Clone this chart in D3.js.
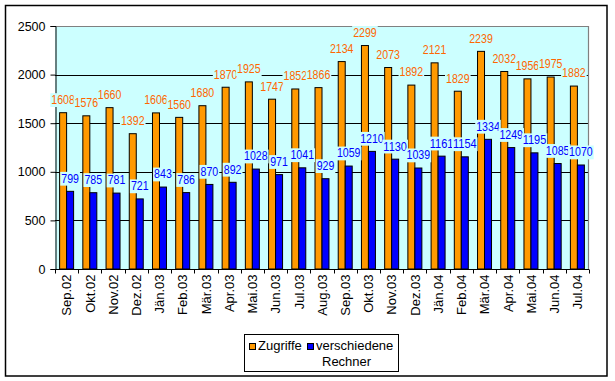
<!DOCTYPE html>
<html>
<head>
<meta charset="utf-8">
<script src="https://cdn.jsdelivr.net/npm/d3@7/dist/d3.min.js"></script>
<style>
  html, body { margin: 0; padding: 0; background: #fff; }
  svg { display: block; }
  text { font-family: "Liberation Sans", Arial, sans-serif; }
</style>
</head>
<body>
<svg id="chart" width="615" height="381"></svg>
<script>
const categories = ["Sep.02","Okt.02","Nov.02","Dez.02","Jän.03","Feb.03","Mär.03","Apr.03","Mai.03","Jun.03","Jul.03","Aug.03","Sep.03","Okt.03","Nov.03","Dez.03","Jän.04","Feb.04","Mär.04","Apr.04","Mai.04","Jun.04","Jul.04"];
const zugriffe = [1608,1576,1660,1392,1606,1560,1680,1870,1925,1747,1852,1866,2134,2299,2073,1892,2121,1829,2239,2032,1956,1975,1882];
const rechner = [799,785,781,721,843,786,870,892,1028,971,1041,929,1059,1210,1130,1039,1161,1154,1334,1249,1195,1085,1070];
const yTicks = [0,500,1000,1500,2000,2500];
const seriesNames = ["Zugriffe", "verschiedene", "Rechner"];

const svg = d3.select("#chart");
const plot = {left: 55, right: 589, top: 26, bottom: 269};

// outer chart area
svg.append("rect").attr("x", 5.5).attr("y", 5.5).attr("width", 601.5).attr("height", 370.5)
  .attr("fill", "#fff").attr("stroke", "#000").attr("stroke-width", 1.5);

const x = d3.scaleBand().domain(categories).range([plot.left, plot.right]).paddingInner(0).paddingOuter(0);
const y = d3.scaleLinear().domain([0, 2500]).range([plot.bottom, plot.top]);
const xs = d3.scaleBand().domain([0, 1]).range([0, x.bandwidth()]).paddingInner(0).paddingOuter(0.66);

// plot background
svg.append("rect").attr("x", plot.left).attr("y", plot.top)
  .attr("width", plot.right - plot.left).attr("height", plot.bottom - plot.top)
  .attr("fill", "#CCFFFF");

// gridlines
svg.append("g").selectAll("line").data(yTicks.filter(d => d > 0 && d < 2500)).join("line")
  .attr("x1", plot.left).attr("x2", plot.right)
  .attr("y1", d => Math.round(y(d)) + 0.5).attr("y2", d => Math.round(y(d)) + 0.5)
  .attr("stroke", "#000").attr("stroke-width", 1);

// plot border top/right gray
svg.append("path")
  .attr("d", `M${plot.left},${plot.top + 0.5}H${plot.right - 0.5}V${plot.bottom}`)
  .attr("fill", "none").attr("stroke", "#808080").attr("stroke-width", 1.2);

// bars
const series = [
  {vals: zugriffe, fill: "#FF9900", txt: "#FF6600"},
  {vals: rechner, fill: "#0000FF", txt: "#0000FF"}
];
series.forEach((s, si) => {
  svg.append("g").selectAll("rect").data(s.vals).join("rect")
    .attr("x", (d, i) => x(categories[i]) + xs(si))
    .attr("y", d => y(d))
    .attr("width", xs.bandwidth())
    .attr("height", d => y(0) - y(d))
    .attr("fill", s.fill).attr("stroke", "#000").attr("stroke-width", 1);
});

// axes
const yAxis = d3.axisLeft(y).tickValues(yTicks).tickSize(5).tickPadding(5).tickFormat(d3.format("d"));
const gy = svg.append("g").attr("transform", `translate(${plot.left + 0.5},0)`).call(yAxis);
gy.select(".domain").attr("stroke", "#000");
gy.selectAll("line").attr("stroke", "#000");
gy.selectAll("text").attr("font-size", "12.5px").attr("fill", "#000").attr("font-family", "'Liberation Sans', Arial, sans-serif");

const gx = svg.append("g").attr("transform", `translate(0,${plot.bottom + 0.5})`);
gx.append("line").attr("x1", plot.left).attr("x2", plot.right).attr("stroke", "#000");
const boundaries = categories.map(c => x(c)).concat([plot.right]);
gx.selectAll("line.tk").data(boundaries).join("line").attr("class", "tk")
  .attr("x1", d => Math.round(d) + 0.5).attr("x2", d => Math.round(d) + 0.5)
  .attr("y1", 0).attr("y2", 4).attr("stroke", "#000");
gx.selectAll("text").data(categories).join("text")
  .attr("transform", d => `translate(${x(d) + x.bandwidth() / 2 + 0.5},5) rotate(-90)`)
  .attr("text-anchor", "end").attr("dy", "0.33em")
  .attr("font-size", "13px").attr("fill", "#000")
  .text(d => d);

// data labels
series.forEach((s, si) => {
  const g = svg.append("g");
  s.vals.forEach((v, i) => {
    const cx = x(categories[i]) + xs(si) + xs.bandwidth() / 2;
    const txt = String(v);
    const tw = txt.length * 5.9;
    const top = y(v);
    g.append("rect").attr("x", cx - tw / 2 - 1).attr("y", top - 19.5)
      .attr("width", tw + 2).attr("height", 13.8).attr("fill", "#CCFFFF");
    g.append("text").attr("x", cx).attr("y", top - 8.6)
      .attr("text-anchor", "middle").attr("font-size", "13px")
      .attr("textLength", tw).attr("lengthAdjust", "spacingAndGlyphs")
      .attr("fill", s.txt).text(txt);
  });
});

// legend
const lg = svg.append("g");
lg.append("rect").attr("x", 244.5).attr("y", 334.5).attr("width", 154).attr("height", 37)
  .attr("fill", "#fff").attr("stroke", "#000").attr("stroke-width", 1);
lg.append("rect").attr("x", 249.5).attr("y", 343.5).attr("width", 6).attr("height", 6)
  .attr("fill", "#FF9900").attr("stroke", "#000");
lg.append("text").attr("x", 258).attr("y", 350).attr("font-size", "13px").text(seriesNames[0]);
lg.append("rect").attr("x", 307.5).attr("y", 343.5).attr("width", 6).attr("height", 6)
  .attr("fill", "#0000FF").attr("stroke", "#000");
lg.append("text").attr("x", 316).attr("y", 350).attr("font-size", "13px").text(seriesNames[1]);
lg.append("text").attr("x", 322).attr("y", 366).attr("font-size", "13px").text(seriesNames[2]);
</script>
</body>
</html>
